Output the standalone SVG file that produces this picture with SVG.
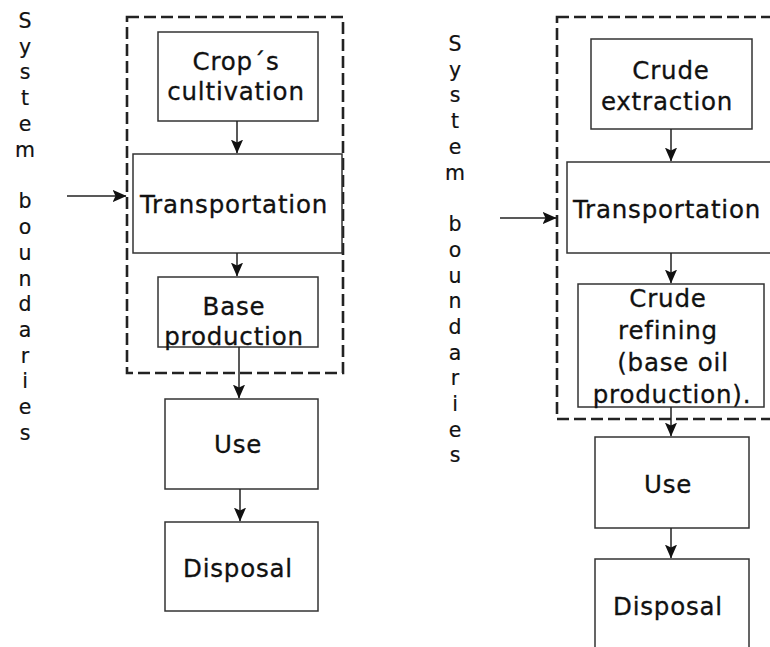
<svg xmlns="http://www.w3.org/2000/svg" width="770" height="647" viewBox="0 0 770 647">
  <style>
    .box { fill: #ffffff; stroke: #333333; stroke-width: 1.5; }
    .bound { fill: none; stroke: #222222; stroke-width: 2.6; stroke-dasharray: 12 5; }
    .lbl { font-family: "DejaVu Sans", Verdana, sans-serif; font-size: 24.5px; fill: #111111; stroke: #111111; stroke-width: 0.3; text-anchor: middle; letter-spacing: 0.8px; }
    .vert { font-family: "DejaVu Sans", Verdana, sans-serif; font-size: 20.5px; fill: #111111; stroke: #111111; stroke-width: 0.2; text-anchor: middle; }
    .conn line { stroke: #222222; stroke-width: 1.5; marker-end: url(#head); }
  </style>
  <defs>
    <marker id="head" viewBox="0 0 12 12" refX="11.5" refY="6" markerWidth="14" markerHeight="14" markerUnits="userSpaceOnUse" orient="auto">
      <path d="M0,0.8 L12,6 L0,11.2 L2.5,6 Z" fill="#111111"/>
    </marker>
  </defs>
  <rect width="770" height="647" fill="#ffffff"/>

  <!-- system boundary frames -->
  <rect id="boundary-left" class="bound" x="127" y="17" width="216" height="356"/>
  <rect id="boundary-right" class="bound" x="557" y="17" width="230" height="402"/>

  <!-- vertical caption, left -->
  <g id="caption-left" class="vert">
    <text x="25" y="28">S</text>
    <text x="25" y="54">y</text>
    <text x="25" y="79">s</text>
    <text x="25" y="105">t</text>
    <text x="25" y="131">e</text>
    <text x="25" y="157">m</text>
    <text x="25" y="208">b</text>
    <text x="25" y="234">o</text>
    <text x="25" y="260">u</text>
    <text x="25" y="286">n</text>
    <text x="25" y="311">d</text>
    <text x="25" y="337">a</text>
    <text x="25" y="363">r</text>
    <text x="25" y="388">i</text>
    <text x="25" y="414">e</text>
    <text x="25" y="440">s</text>
  </g>

  <!-- vertical caption, right -->
  <g id="caption-right" class="vert">
    <text x="455" y="51">S</text>
    <text x="455" y="77">y</text>
    <text x="455" y="102">s</text>
    <text x="455" y="128">t</text>
    <text x="455" y="154">e</text>
    <text x="455" y="180">m</text>
    <text x="455" y="231">b</text>
    <text x="455" y="257">o</text>
    <text x="455" y="283">u</text>
    <text x="455" y="308">n</text>
    <text x="455" y="334">d</text>
    <text x="455" y="360">a</text>
    <text x="455" y="385">r</text>
    <text x="455" y="411">i</text>
    <text x="455" y="437">e</text>
    <text x="455" y="462">s</text>
  </g>

  <!-- left chain -->
  <g id="crop-cultivation">
    <rect class="box" x="158" y="32" width="160" height="89"/>
    <text class="lbl" x="236" y="70">Crop´s</text>
    <text class="lbl" x="236" y="100">cultivation</text>
  </g>
  <g id="transportation-left">
    <rect class="box" x="133" y="154" width="209" height="99"/>
    <text class="lbl" x="234" y="213">Transportation</text>
  </g>
  <g id="base-production">
    <rect class="box" x="158" y="277" width="160" height="70"/>
    <text class="lbl" x="234" y="315">Base</text>
    <text class="lbl" x="234" y="345">production</text>
  </g>
  <g id="use-left">
    <rect class="box" x="165" y="399" width="153" height="90"/>
    <text class="lbl" x="238" y="453">Use</text>
  </g>
  <g id="disposal-left">
    <rect class="box" x="165" y="522" width="153" height="89"/>
    <text class="lbl" x="238" y="577">Disposal</text>
  </g>

  <!-- right chain -->
  <g id="crude-extraction">
    <rect class="box" x="591" y="39" width="161" height="90"/>
    <text class="lbl" x="671" y="79">Crude</text>
    <text class="lbl" x="667" y="110">extraction</text>
  </g>
  <g id="transportation-right">
    <rect class="box" x="567" y="162" width="220" height="91"/>
    <text class="lbl" x="667" y="218">Transportation</text>
  </g>
  <g id="crude-refining">
    <rect class="box" x="578" y="284" width="186" height="123"/>
    <text class="lbl" x="668" y="307">Crude</text>
    <text class="lbl" x="668" y="339">refining</text>
    <text class="lbl" x="673" y="371">(base oil</text>
    <text class="lbl" x="672" y="403">production).</text>
  </g>
  <g id="use-right">
    <rect class="box" x="595" y="437" width="154" height="91"/>
    <text class="lbl" x="668" y="493">Use</text>
  </g>
  <g id="disposal-right">
    <rect class="box" x="595" y="559" width="154" height="100"/>
    <text class="lbl" x="668" y="615">Disposal</text>
  </g>

  <!-- connectors -->
  <g id="connectors" class="conn">
    <line x1="237" y1="121" x2="237" y2="153"/>
    <line x1="237" y1="253" x2="237" y2="276"/>
    <line x1="239" y1="347" x2="239" y2="398"/>
    <line x1="240" y1="489" x2="240" y2="521"/>
    <line x1="67" y1="196" x2="126" y2="196"/>
    <line x1="671" y1="129" x2="671" y2="161"/>
    <line x1="671" y1="253" x2="671" y2="283"/>
    <line x1="671" y1="407" x2="671" y2="436"/>
    <line x1="671" y1="528" x2="671" y2="558"/>
    <line x1="500" y1="218" x2="556" y2="218"/>
  </g>
</svg>
